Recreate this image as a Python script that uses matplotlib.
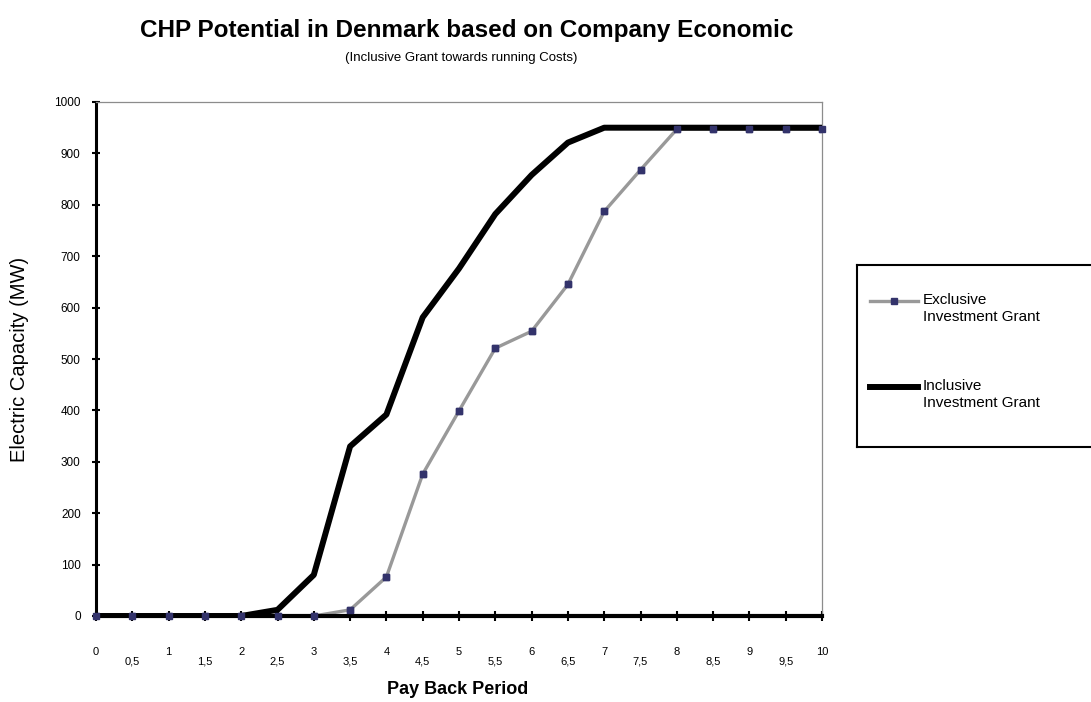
import matplotlib.pyplot as plt

# pay back period (years)
x = [0, 0.5, 1, 1.5, 2, 2.5, 3, 3.5, 4, 4.5, 5, 5.5, 6, 6.5, 7, 7.5, 8, 8.5, 9, 9.5, 10]

# electric capacity (MW)
exclusive = [0, 0, 0, 0, 0, 0, 0, 12, 76, 276, 399, 521, 554, 645, 787, 868, 947, 947, 947, 947, 947]
inclusive = [0, 0, 0, 0, 0, 12, 80, 330, 392, 581, 676, 782, 858, 921, 950, 950, 950, 950, 950, 950, 950]

series_names = ['Exclusive\nInvestment Grant', 'Inclusive\nInvestment Grant']

y_ticks = [0, 100, 200, 300, 400, 500, 600, 700, 800, 900, 1000]
x_major = [0, 1, 2, 3, 4, 5, 6, 7, 8, 9, 10]
x_major_labels = ['0', '1', '2', '3', '4', '5', '6', '7', '8', '9', '10']
x_minor = [0.5, 1.5, 2.5, 3.5, 4.5, 5.5, 6.5, 7.5, 8.5, 9.5]
x_minor_labels = ['0,5', '1,5', '2,5', '3,5', '4,5', '5,5', '6,5', '7,5', '8,5', '9,5']

plt.rcParams['font.family'] = ['Liberation Sans', 'DejaVu Sans']

W, H = 1091, 702
fig = plt.figure(figsize=(W / 100, H / 100), dpi=100)
ax = fig.add_axes([96 / W, 1 - 616 / H, 726 / W, 514 / H])

navy = '#33336b'
grey_style = dict(color='#999999', lw=2.4, marker='s', ms=4.2, mfc=navy, mec=navy)
black_style = dict(color='black', lw=4.3)

ax.plot(x, exclusive, zorder=2, **grey_style)
ax.plot(x, inclusive, zorder=3, **black_style)
# markers sit on top of the black curve
ax.plot(x, exclusive, ls='none', marker='s', ms=4.2, mfc=navy, mec=navy,
        zorder=4, clip_on=False)

ax.set_xlim(0, 10)
ax.set_ylim(0, 1000)

ax.spines['left'].set_linewidth(2.2)
ax.spines['bottom'].set_linewidth(3)
for s in ['top', 'right']:
    ax.spines[s].set_color('#8c8c8c')
    ax.spines[s].set_linewidth(0.9)

ax.set_yticks(y_ticks)
ax.set_yticklabels([str(v) for v in y_ticks])
ax.set_xticks(x_major)
ax.set_xticklabels(x_major_labels)
ax.set_xticks(x_minor, minor=True)
ax.set_xticklabels(x_minor_labels, minor=True)

ax.tick_params(axis='y', direction='inout', length=6, width=1.5,
               labelsize=8.5, pad=8)
ax.tick_params(axis='x', which='both', direction='inout', length=7,
               width=1.5, labelsize=8)
ax.tick_params(axis='x', which='major', pad=19)
ax.tick_params(axis='x', which='minor', pad=26)

fig.text(467 / W, 1 - 31 / H, 'CHP Potential in Denmark based on Company Economic',
         ha='center', va='center', fontsize=17.5, fontweight='bold')
fig.text(461 / W, 1 - 58 / H, '(Inclusive Grant towards running Costs)',
         ha='center', va='center', fontsize=9.5)
fig.text(20 / W, 1 - 359 / H, 'Electric Capacity (MW)', rotation=90,
         ha='center', va='center', fontsize=14.5)
fig.text(458 / W, 1 - 690 / H, 'Pay Back Period', ha='center', va='center',
         fontsize=13, fontweight='bold')

# legend box, running off the right edge of the figure
lg = fig.add_axes([857 / W, 1 - 447 / H, 300 / W, 182 / H])
lg.set_xlim(0, 300)
lg.set_ylim(182, 0)
lg.set_xticks([])
lg.set_yticks([])
for s in lg.spines.values():
    s.set_linewidth(1.5)
    s.set_color('black')

for i, (name, style) in enumerate(zip(series_names, [grey_style, black_style])):
    row = 36 + i * 86
    lg.plot([13, 61], [row, row], markevery=[], **style)
    if 'marker' in style:
        lg.plot([37], [row], ls='none', marker='s', ms=4.2, mfc=navy, mec=navy)
    lg.text(66, row - 8, name, ha='left', va='top', fontsize=11,
            linespacing=1.3)

fig.savefig('out.png', dpi=100)
